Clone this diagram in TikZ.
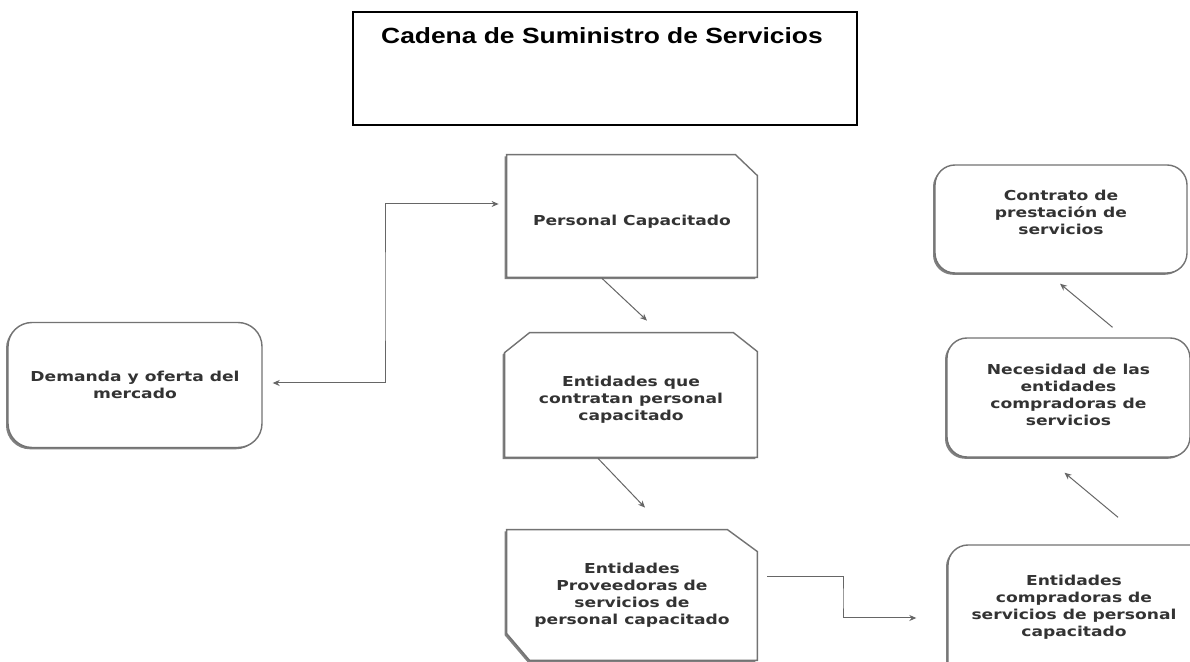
\documentclass[tikz,border=0pt]{standalone}
\usepackage{fontspec}
\usetikzlibrary{arrows.meta,calc,shadows,backgrounds}
\newfontfamily\titlefont{Liberation Sans}[FakeStretch=1.2]
\newfontfamily\boxfont{DejaVu Sans}[FakeStretch=1.25]
\begin{document}
\begin{tikzpicture}[x=0.5pt,y=-0.5pt,
  shade box/.style={drop shadow={shadow xshift=-1pt, shadow yshift=-0.9pt, fill=black!50, opacity=1}},
  boxline/.style={draw=black!55, line width=0.7pt, fill=white, shade box},
  txt/.style={font=\boxfont\bfseries\fontsize{6.85pt}{8.5pt}\selectfont, text=black!80, align=center, inner sep=0pt},
  rbox/.style={boxline, rounded corners=10pt, txt},
  sbox/.style={txt, draw=none},
  conn/.style={draw=black!60, line width=0.5pt, -{Stealth[length=3.5pt,width=3pt]}},
  conn2/.style={draw=black!60, line width=0.5pt, {Stealth[length=3.5pt,width=3pt]}-{Stealth[length=3.5pt,width=3pt]}},
]
\path[use as bounding box, clip] (0,0) rectangle (1190,662);
\begin{scope}[on background layer]
\fill[white] (0,0) rectangle (1190,662);
\end{scope}

% title
\node[draw=black, line width=0.9pt, minimum width=252pt, minimum height=56.5pt, inner sep=0pt] (titlebox) at (605,68.5) {};
\node[anchor=base, font=\titlefont\bfseries\fontsize{11pt}{13pt}\selectfont, inner sep=0pt] (titletext) at (602,44) {Cadena de Suministro de Servicios};

% rounded boxes
\node[rbox, rounded corners=12pt, minimum width=127pt, minimum height=62.5pt] (dem) at (135,385) {Demanda y oferta del\\mercado};
\node[rbox, minimum width=126pt, minimum height=54pt,
  label={[txt,yshift=3.5pt]center:{Contrato de\\prestación de\\servicios}}] (con) at (1061,219) {};
\node[rbox, minimum width=121.5pt, minimum height=59.5pt,
  label={[txt,yshift=1.5pt]center:{Necesidad de las\\entidades\\compradoras de\\servicios}}] (nec) at (1068.5,397.5) {};
\node[rbox, minimum width=132pt, minimum height=72.5pt,
  label={[txt,yshift=5pt,xshift=-3pt]center:{Entidades\\compradoras de\\servicios de personal\\capacitado}}] (comp) at (1080,617.5) {};

% snipped boxes (outlines drawn behind)
\node[sbox, minimum width=125pt, minimum height=61pt,
  label={[txt,yshift=-3pt]center:{Personal Capacitado}}] (pc) at (632,216) {};
\node[sbox, minimum width=126pt, minimum height=62pt,
  label={[txt,yshift=-2.5pt]center:{Entidades que\\contratan personal\\capacitado}}] (ect) at (631,395) {};
\node[sbox, minimum width=125pt, minimum height=65pt] (prov) at (632,595) {Entidades\\Proveedoras de\\servicios de\\personal capacitado};

\begin{scope}[on background layer]
\draw[boxline] (pc.north west) -- ([xshift=-11pt]pc.north east) -- ([yshift=-10.5pt]pc.north east) -- (pc.south east) -- (pc.south west) -- cycle;
\draw[boxline] ([yshift=-10pt]ect.north west) -- ([xshift=12.5pt]ect.north west) -- ([xshift=-12pt]ect.north east) -- ([yshift=-9.5pt]ect.north east) -- (ect.south east) -- (ect.south west) -- cycle;
\draw[boxline] (prov.north west) -- ([xshift=-15pt]prov.north east) -- ([yshift=-11pt]prov.north east) -- (prov.south east) -- ([xshift=11.5pt]prov.south west) -- ([yshift=13.5pt]prov.south west) -- cycle;
\end{scope}

% connectors
\coordinate (bend1) at (385,300);
\coordinate (bend2) at (843,600);
\draw[conn2] ([xshift=5pt,yshift=1pt]dem.east) -| (bend1) |- ([xshift=-4pt,yshift=6pt]pc.west);
\draw[conn] ([xshift=-15pt,yshift=-0.5pt]pc.south) -- ([xshift=8pt,yshift=6pt]ect.north);
\draw[conn] ([xshift=-16.5pt,yshift=-0.5pt]ect.south) -- ([xshift=6.5pt,yshift=11pt]prov.north);
\draw[conn] ([xshift=5pt,yshift=9pt]prov.east) -| (bend2) |- ([xshift=-15.5pt]comp.west |- 0,618);
\draw[conn] ([xshift=19pt,yshift=13.5pt]comp.north) -- ([xshift=-2pt,yshift=-7.5pt]nec.south);
\draw[conn] ([xshift=22pt,yshift=5pt]nec.north) -- ([xshift=-0.5pt,yshift=-5pt]con.south);
\end{tikzpicture}
\end{document}
